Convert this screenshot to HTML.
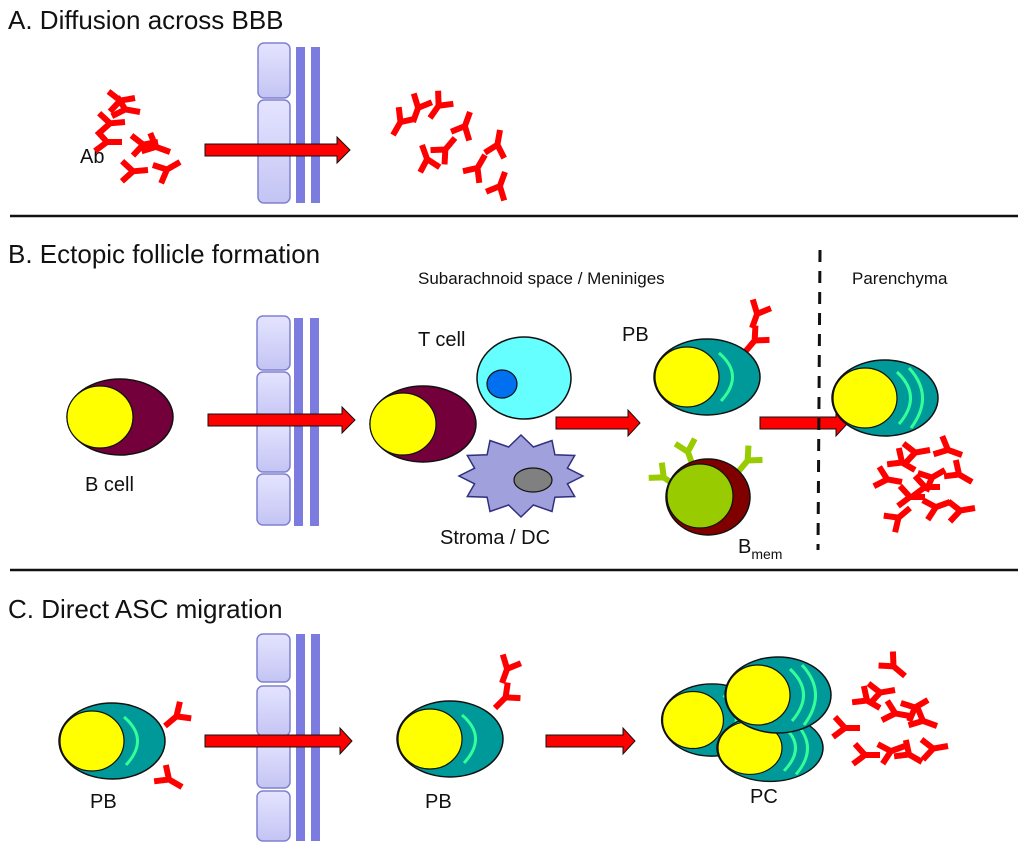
<!DOCTYPE html>
<html><head><meta charset="utf-8"><style>
html,body{margin:0;padding:0;background:#fff}
svg{display:block}
text{font-family:"Liberation Sans",sans-serif;fill:#111}
</style></head><body>
<svg width="1024" height="852" viewBox="0 0 1024 852" xmlns="http://www.w3.org/2000/svg">
<defs>
<linearGradient id="cg" x1="0" y1="0" x2="0" y2="1"><stop offset="0" stop-color="#e4e4ff"/><stop offset="1" stop-color="#c4c4f4"/></linearGradient>
<g id="ab"><path d="M0,0 L0,-15 M0,-15 L-9,-27 M0,-15 L11,-25" stroke="#ff0000" stroke-width="6" fill="none"/></g>
<g id="abg"><path d="M0,0 L0,-15 M0,-15 L-9,-27 M0,-15 L11,-25" stroke="#99cc00" stroke-width="6" fill="none"/></g>
<g id="pb"><ellipse cx="0" cy="0" rx="53" ry="38" fill="#009999" stroke="#111" stroke-width="1.5"/><ellipse cx="-20" cy="0" rx="32" ry="30" fill="#ffff00" stroke="#111" stroke-width="1.2"/><path d="M12,-24 Q38,-2 14,24" stroke="#33ff99" stroke-width="3" fill="none"/></g>
<g id="pc"><ellipse cx="0" cy="0" rx="53" ry="38" fill="#009999" stroke="#111" stroke-width="1.5"/><ellipse cx="-20" cy="0" rx="32" ry="30" fill="#ffff00" stroke="#111" stroke-width="1.2"/><path d="M12,-26 Q38,-2 14,26 M24,-30 Q50,-2 26,30" stroke="#33ff99" stroke-width="3" fill="none"/></g>
<g id="bc"><ellipse cx="0" cy="0" rx="53" ry="38" fill="#73003a" stroke="#111" stroke-width="1.5"/><ellipse cx="-20" cy="0" rx="33" ry="31" fill="#ffff00" stroke="#111" stroke-width="1.2"/></g>
</defs>

<text x="8" y="29" font-size="26">A. Diffusion across BBB</text>
<text x="8" y="263" font-size="26">B. Ectopic follicle formation</text>
<text x="8" y="618" font-size="26">C. Direct ASC migration</text>
<line x1="10" y1="216" x2="1018" y2="216" stroke="#111" stroke-width="2.5"/>
<line x1="10" y1="570" x2="1018" y2="570" stroke="#111" stroke-width="2.5"/>

<rect x="258" y="43" width="32" height="55" rx="6" fill="url(#cg)" stroke="#8080d0" stroke-width="1.5"/>
<rect x="258" y="100" width="32" height="103" rx="6" fill="url(#cg)" stroke="#8080d0" stroke-width="1.5"/>
<rect x="296" y="47" width="9" height="156" fill="#7b7be0"/>
<rect x="311" y="47" width="9" height="156" fill="#7b7be0"/>
<rect x="257" y="316" width="33" height="54" rx="6" fill="url(#cg)" stroke="#8080d0" stroke-width="1.5"/>
<rect x="257" y="372" width="33" height="48" rx="6" fill="url(#cg)" stroke="#8080d0" stroke-width="1.5"/>
<rect x="257" y="422" width="33" height="50" rx="6" fill="url(#cg)" stroke="#8080d0" stroke-width="1.5"/>
<rect x="257" y="474" width="33" height="51" rx="6" fill="url(#cg)" stroke="#8080d0" stroke-width="1.5"/>
<rect x="294" y="318" width="9" height="208" fill="#7b7be0"/>
<rect x="310" y="318" width="9" height="208" fill="#7b7be0"/>
<rect x="257" y="634" width="33" height="48" rx="6" fill="url(#cg)" stroke="#8080d0" stroke-width="1.5"/>
<rect x="257" y="686" width="33" height="50" rx="6" fill="url(#cg)" stroke="#8080d0" stroke-width="1.5"/>
<rect x="257" y="739" width="33" height="49" rx="6" fill="url(#cg)" stroke="#8080d0" stroke-width="1.5"/>
<rect x="257" y="791" width="33" height="50" rx="6" fill="url(#cg)" stroke="#8080d0" stroke-width="1.5"/>
<rect x="296" y="634" width="9" height="207" fill="#7b7be0"/>
<rect x="311" y="634" width="9" height="207" fill="#7b7be0"/>

<g fill="#ff0000" stroke="#111" stroke-width="1">
<polygon points="205,144 337,144 337,137 350,150 337,163 337,156 205,156"/>
<polygon points="208,414 342,414 342,407 355,420 342,433 342,426 208,426"/>
<polygon points="556,417 628,417 628,410 640,423 628,436 628,429 556,429"/>
<polygon points="760,417 836,417 836,410 848,423 836,436 836,429 760,429"/>
<polygon points="205,735 340,735 340,728 352,741 340,754 340,747 205,747"/>
<polygon points="546,735 623,735 623,728 635,741 623,754 623,747 546,747"/>
</g>

<text x="80" y="163" font-size="20">Ab</text>
<use href="#ab" transform="translate(135,98) rotate(-100)"/>
<use href="#ab" transform="translate(140,112) rotate(-80)"/>
<use href="#ab" transform="translate(125,122) rotate(-95)"/>
<use href="#ab" transform="translate(122,142) rotate(-90)"/>
<use href="#ab" transform="translate(158,142) rotate(-100)"/>
<use href="#ab" transform="translate(170,152) rotate(-70)"/>
<use href="#ab" transform="translate(148,170) rotate(-95)"/>
<use href="#ab" transform="translate(180,162) rotate(-120)"/>
<use href="#ab" transform="translate(393,135) rotate(30)"/>
<use href="#ab" transform="translate(413,122) rotate(20)"/>
<use href="#ab" transform="translate(430,118) rotate(35)"/>
<use href="#ab" transform="translate(422,145) rotate(160)"/>
<use href="#ab" transform="translate(455,138) rotate(-140)"/>
<use href="#ab" transform="translate(470,112) rotate(200)"/>
<use href="#ab" transform="translate(485,155) rotate(-150)"/>
<use href="#ab" transform="translate(500,130) rotate(190)"/>
<use href="#ab" transform="translate(505,172) rotate(200)"/>

<use href="#bc" transform="translate(120,417)"/>
<text x="85" y="491" font-size="20">B cell</text>
<text x="418" y="284" font-size="17">Subarachnoid space / Meniniges</text>
<text x="852" y="284" font-size="17">Parenchyma</text>
<line x1="820" y1="250" x2="818" y2="550" stroke="#111" stroke-width="3" stroke-dasharray="12,9"/>
<use href="#bc" transform="translate(423,424)"/>
<ellipse cx="524" cy="378" rx="47" ry="41" fill="#66ffff" stroke="#111" stroke-width="1.5"/>
<ellipse cx="502" cy="384" rx="15" ry="14" fill="#0070f0" stroke="#111" stroke-width="1.2"/>
<text x="418" y="346" font-size="20">T cell</text>
<polygon points="583,476 567.4,483.8 574.7,496.5 554.9,497.2 552,511.5 533.4,505 521,517 508.6,505 490,511.5 487.1,497.2 467.3,496.5 474.6,483.8 459,476 474.6,468.2 467.3,455.5 487.1,454.8 490,440.5 508.6,447 521,435 533.4,447 552,440.5 554.9,454.8 574.7,455.5 567.4,468.2" fill="#a0a0dc" stroke="#303080" stroke-width="1.5"/>
<ellipse cx="533" cy="480" rx="19" ry="12" fill="#808080" stroke="#111" stroke-width="1.2"/>
<text x="440" y="544" font-size="20">Stroma / DC</text>

<text x="622" y="341" font-size="20">PB</text>
<use href="#ab" transform="translate(745,352) rotate(40)"/>
<use href="#ab" transform="translate(752,328) rotate(20)"/>
<use href="#pb" transform="translate(707,377)"/>
<use href="#abg" transform="translate(676,486) rotate(-55)"/>
<use href="#abg" transform="translate(693,466) rotate(-20)"/>
<use href="#abg" transform="translate(738,472) rotate(40)"/>
<ellipse cx="708" cy="497" rx="42" ry="38" fill="#800000" stroke="#111" stroke-width="1.5"/>
<ellipse cx="700" cy="496" rx="33" ry="32" fill="#99cc00" stroke="#111" stroke-width="1.2"/>
<text x="738" y="553" font-size="20">B<tspan font-size="14" dy="6">mem</tspan></text>

<use href="#pc" transform="translate(885,398)"/>
<use href="#ab" transform="translate(902,482) rotate(-80)"/>
<use href="#ab" transform="translate(915,470) rotate(-60)"/>
<use href="#ab" transform="translate(930,450) rotate(-100)"/>
<use href="#ab" transform="translate(945,470) rotate(-120)"/>
<use href="#ab" transform="translate(962,455) rotate(-70)"/>
<use href="#ab" transform="translate(925,497) rotate(-90)"/>
<use href="#ab" transform="translate(950,502) rotate(-110)"/>
<use href="#ab" transform="translate(972,482) rotate(-60)"/>
<use href="#ab" transform="translate(910,508) rotate(-130)"/>
<use href="#ab" transform="translate(940,487) rotate(-90)"/>
<use href="#ab" transform="translate(975,508) rotate(-100)"/>

<use href="#ab" transform="translate(165,726) rotate(50)"/>
<use href="#pb" transform="translate(112,741)"/>
<use href="#ab" transform="translate(182,787) rotate(-60)"/>
<text x="90" y="808" font-size="20">PB</text>
<use href="#ab" transform="translate(495,708) rotate(45)"/>
<use href="#ab" transform="translate(502,683) rotate(20)"/>
<use href="#pb" transform="translate(450,739)"/>
<text x="425" y="808" font-size="20">PB</text>

<use href="#pc" transform="translate(712,720) scale(0.95)"/>
<use href="#pc" transform="translate(770,748) scale(1,0.88)"/>
<use href="#pc" transform="translate(778,695)"/>
<text x="750" y="803" font-size="20">PC</text>
<use href="#ab" transform="translate(860,728) rotate(-90)"/>
<use href="#ab" transform="translate(880,708) rotate(-60)"/>
<use href="#ab" transform="translate(895,690) rotate(-100)"/>
<use href="#ab" transform="translate(905,676) rotate(-50)"/>
<use href="#ab" transform="translate(910,716) rotate(-80)"/>
<use href="#ab" transform="translate(928,700) rotate(-120)"/>
<use href="#ab" transform="translate(937,726) rotate(-70)"/>
<use href="#ab" transform="translate(880,755) rotate(-90)"/>
<use href="#ab" transform="translate(905,746) rotate(-110)"/>
<use href="#ab" transform="translate(922,762) rotate(-60)"/>
<use href="#ab" transform="translate(948,746) rotate(-100)"/>
</svg>
</body></html>
